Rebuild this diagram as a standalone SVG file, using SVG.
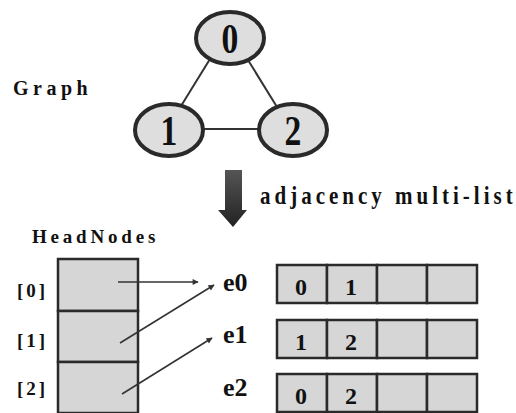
<svg xmlns="http://www.w3.org/2000/svg" width="516" height="413" viewBox="0 0 516 413">
  <defs>
    <style>
      text { font-family: "Liberation Serif", "DejaVu Serif", serif; font-weight: bold; fill: #111; }
      .node ellipse { fill: #dedede; stroke: #2a2a2a; stroke-width: 4; }
      .node text { font-size: 42px; text-anchor: middle; }
      .cell { fill: #d6d6d6; stroke: #2a2a2a; stroke-width: 2.5; }
      .cell-txt { font-size: 24px; text-anchor: middle; }
      .idx { font-size: 19px; letter-spacing: 3px; }
      .edge-name { font-size: 26px; }
      .edge { stroke: #333; stroke-width: 2; fill: none; }
      .ptr { stroke: #333; stroke-width: 1.6; fill: none; marker-end: url(#head); }
    </style>
    <marker id="head" viewBox="0 0 10 10" refX="9" refY="5" markerWidth="8" markerHeight="6" orient="auto" markerUnits="userSpaceOnUse">
      <path d="M0,0 L10,5 L0,10 z" fill="#333"/>
    </marker>
    <linearGradient id="bigArrow" x1="0" y1="0" x2="0" y2="1">
      <stop offset="0" stop-color="#555"/>
      <stop offset="1" stop-color="#222"/>
    </linearGradient>
  </defs>

  <rect width="516" height="413" fill="#fff"/>

  <!-- graph edges -->
  <g id="graph-edges">
    <line class="edge" x1="210" y1="59" x2="181" y2="106"/>
    <line class="edge" x1="248" y1="60" x2="277" y2="107"/>
    <line class="edge" x1="201" y1="129" x2="260" y2="129"/>
  </g>

  <!-- graph vertices -->
  <g id="v0" class="node">
    <ellipse cx="230" cy="38" rx="34" ry="26"/>
    <text transform="translate(230,53) scale(0.8,1)">0</text>
  </g>
  <g id="v1" class="node">
    <ellipse cx="169" cy="130" rx="34" ry="26"/>
    <text transform="translate(169,145) scale(0.8,1)">1</text>
  </g>
  <g id="v2" class="node">
    <ellipse cx="293" cy="130" rx="34" ry="26"/>
    <text transform="translate(293,145) scale(0.8,1)">2</text>
  </g>

  <text id="graph-title" x="13" y="95" font-size="20" letter-spacing="4.5">Graph</text>

  <!-- transformation arrow -->
  <g id="transform">
    <path d="M225,170 L242,170 L242,210 L247,210 L233,227 L218,210 L225,210 z" fill="url(#bigArrow)"/>
    <text transform="translate(260,204) scale(1,1.2)" font-size="21" letter-spacing="4">adjacency multi-list</text>
  </g>

  <!-- head node array -->
  <g id="headnodes">
    <text x="32" y="243" font-size="19" letter-spacing="3.8">HeadNodes</text>
    <rect class="cell" x="58" y="259" width="80" height="52" stroke-width="2"/>
    <rect class="cell" x="58" y="311" width="80" height="51" stroke-width="2"/>
    <rect class="cell" x="58" y="362" width="80" height="51" stroke-width="2"/>
    <text class="idx" x="17" y="297">[0]</text>
    <text class="idx" x="17" y="347">[1]</text>
    <text class="idx" x="17" y="395">[2]</text>
  </g>

  <!-- pointers from head nodes to edge nodes -->
  <g id="pointers">
    <line class="ptr" x1="118" y1="282" x2="198" y2="282"/>
    <line class="ptr" x1="120" y1="343" x2="214" y2="285"/>
    <line class="ptr" x1="122" y1="394" x2="212" y2="338"/>
  </g>

  <!-- edge nodes -->
  <g id="e0">
    <text class="edge-name" x="223" y="291">e0</text>
    <rect class="cell" x="277" y="265" width="50" height="38"/>
    <rect class="cell" x="327" y="265" width="50" height="38"/>
    <rect class="cell" x="377" y="265" width="50" height="38"/>
    <rect class="cell" x="427" y="265" width="50" height="38"/>
    <text class="cell-txt" x="301" y="295">0</text>
    <text class="cell-txt" x="351" y="295">1</text>
  </g>
  <g id="e1">
    <text class="edge-name" x="223" y="343">e1</text>
    <rect class="cell" x="277" y="320" width="50" height="38"/>
    <rect class="cell" x="327" y="320" width="50" height="38"/>
    <rect class="cell" x="377" y="320" width="50" height="38"/>
    <rect class="cell" x="427" y="320" width="50" height="38"/>
    <text class="cell-txt" x="301" y="350">1</text>
    <text class="cell-txt" x="351" y="350">2</text>
  </g>
  <g id="e2">
    <text class="edge-name" x="223" y="396">e2</text>
    <rect class="cell" x="277" y="374" width="50" height="38"/>
    <rect class="cell" x="327" y="374" width="50" height="38"/>
    <rect class="cell" x="377" y="374" width="50" height="38"/>
    <rect class="cell" x="427" y="374" width="50" height="38"/>
    <text class="cell-txt" x="301" y="404">0</text>
    <text class="cell-txt" x="351" y="404">2</text>
  </g>
</svg>
